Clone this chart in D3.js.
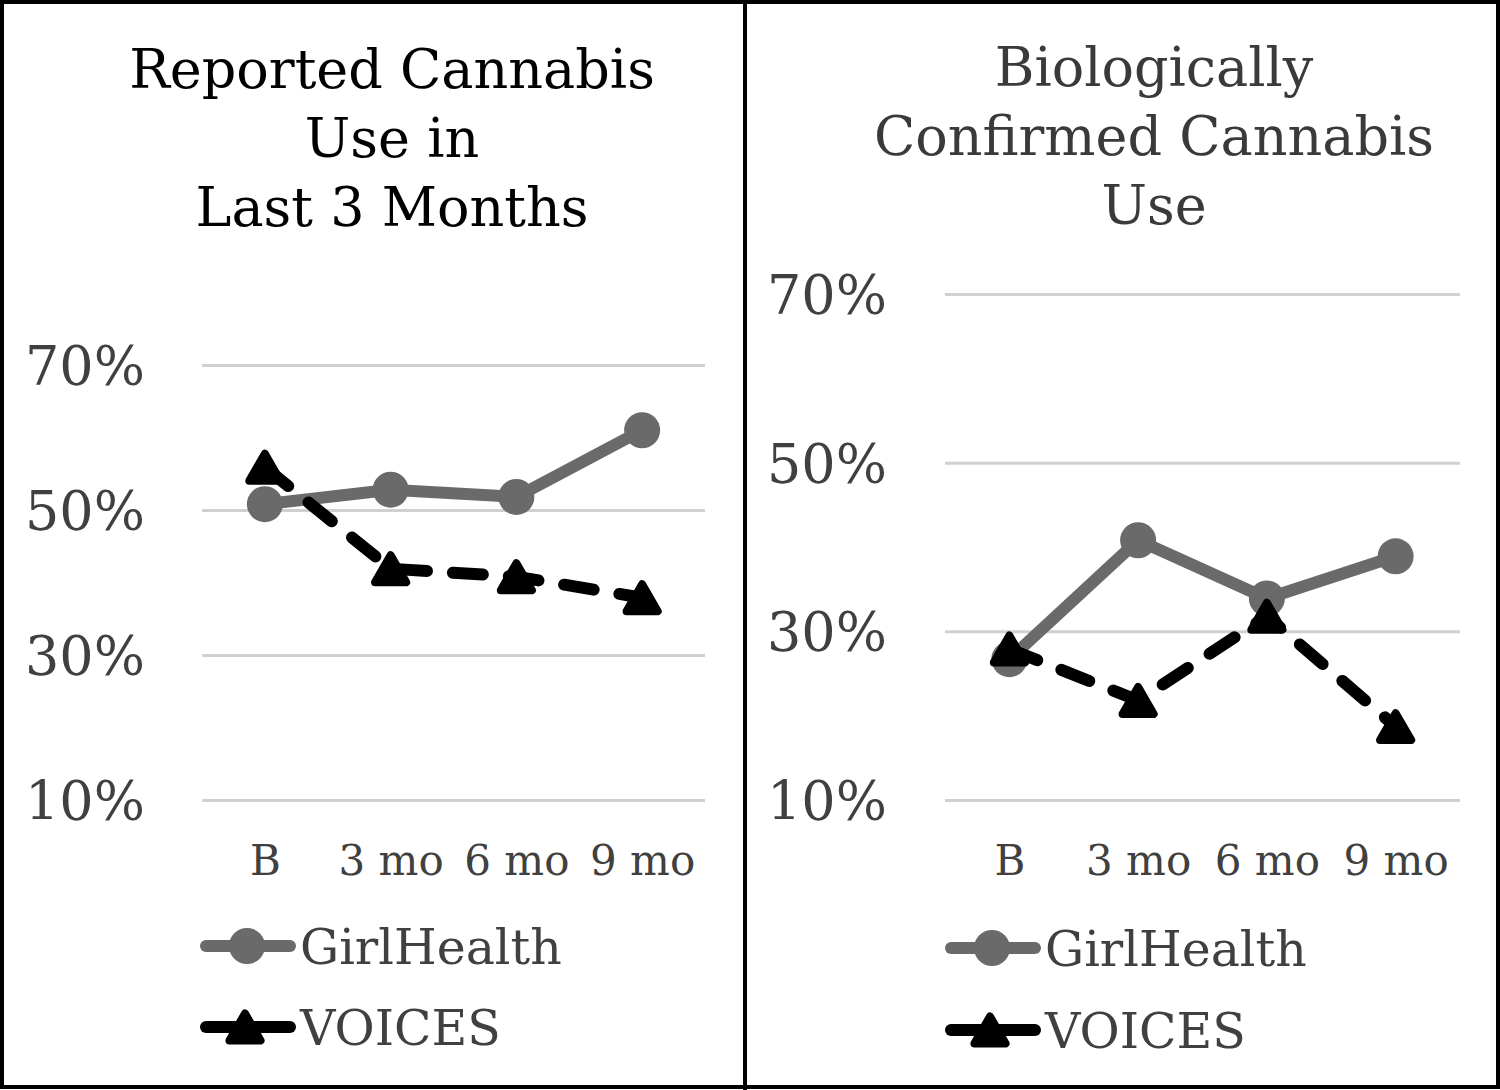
<!DOCTYPE html>
<html>
<head>
<meta charset="utf-8">
<script src="https://cdn.jsdelivr.net/npm/d3@7"></script>
<style>
  body { margin: 0; background: #fff; }
  text { font-family: "DejaVu Serif", "Liberation Serif", serif; }
</style>
</head>
<body>
<svg></svg>
<script>
const svgWidth = 1500;
const svgHeight = 1090;

// data (percent)
const categories = ["B", "3 mo", "6 mo", "9 mo"];
const yTicks = [10, 30, 50, 70];
const seriesNames = ["GirlHealth", "VOICES"];
const reportedGirlHealth = [50.8, 52.8, 51.8, 61.0];
const reportedVoices = [55.9, 41.9, 40.8, 37.9];
const confirmedGirlHealth = [26.7, 40.8, 33.9, 38.9];
const confirmedVoices = [27.9, 21.8, 31.8, 18.7];
const titleReported = ["Reported Cannabis", "Use in", "Last 3 Months"];
const titleConfirmed = ["Biologically", "Confirmed Cannabis", "Use"];

const grayColor = "#6a6a6a";
const labelColor = "#404040";

const panels = [
  { title: titleReported, titleColor: "#000", titleX: 392, titleY: 88,
    left: 202, right: 705, top: 365, bottom: 800, labelX: 145,
    series: [reportedGirlHealth, reportedVoices], legendX: 200, legendY: [946, 1027] },
  { title: titleConfirmed, titleColor: "#3a3a3a", titleX: 1154, titleY: 86,
    left: 945, right: 1460, top: 294, bottom: 800, labelX: 887,
    series: [confirmedGirlHealth, confirmedVoices], legendX: 945, legendY: [948, 1030] }
];

let svg = d3.select("svg")
  .attr("width", svgWidth)
  .attr("height", svgHeight);

const triangle = d3.symbol().type(d3.symbolTriangle).size(420);

const drawCircle = (g, cx, cy) => {
  g.append("circle")
    .attr("cx", cx).attr("cy", cy).attr("r", 18)
    .attr("fill", grayColor);
};

const drawTriangle = (g, cx, cy) => {
  g.append("path")
    .attr("d", triangle())
    .attr("transform", "translate(" + cx + "," + (cy + 4.5) + ")")
    .attr("fill", "#000")
    .attr("stroke", "#000")
    .attr("stroke-width", 8)
    .attr("stroke-linejoin", "round");
};

const drawPanel = (p) => {
  let g = svg.append("g");

  let x = d3.scalePoint().domain(categories).range([p.left, p.right]).padding(0.5);
  let y = d3.scaleLinear().domain([10, 70]).range([p.bottom, p.top]);

  // title
  g.selectAll(".title")
    .data(p.title)
    .enter().append("text")
    .attr("x", p.titleX)
    .attr("y", (d, i) => p.titleY + i * 69)
    .attr("text-anchor", "middle")
    .attr("font-size", 54)
    .attr("fill", p.titleColor)
    .text(d => d);

  // gridlines
  let yAxis = g.append("g")
    .attr("transform", "translate(" + p.left + ",0)")
    .call(d3.axisRight(y).tickValues(yTicks).tickSize(p.right - p.left).tickFormat(d => d + "%"));
  yAxis.select(".domain").remove();
  yAxis.selectAll(".tick line").attr("stroke", "#d0d0d0").attr("stroke-width", 3);
  yAxis.selectAll(".tick text")
    .attr("x", p.labelX - p.left)
    .attr("dy", "0.36em")
    .attr("text-anchor", "end")
    .attr("font-size", 54)
    .attr("font-family", '"DejaVu Serif", serif')
    .attr("fill", labelColor);

  // category labels
  let xAxis = g.append("g")
    .attr("transform", "translate(0," + p.bottom + ")")
    .call(d3.axisBottom(x).tickSize(0));
  xAxis.select(".domain").remove();
  xAxis.selectAll(".tick text")
    .attr("y", 75)
    .attr("dy", 0)
    .attr("font-size", 42)
    .attr("font-family", '"DejaVu Serif", serif')
    .attr("fill", labelColor);

  let line = d3.line()
    .x((d, i) => x(categories[i]))
    .y(d => y(d));

  // GirlHealth
  g.append("path")
    .datum(p.series[0])
    .attr("fill", "none")
    .attr("stroke", grayColor)
    .attr("stroke-width", 12)
    .attr("stroke-linejoin", "round")
    .attr("stroke-linecap", "round")
    .attr("d", line);
  p.series[0].forEach((d, i) => drawCircle(g, x(categories[i]), y(d)));

  // VOICES
  g.append("path")
    .datum(p.series[1])
    .attr("fill", "none")
    .attr("stroke", "#000")
    .attr("stroke-width", 12)
    .attr("stroke-dasharray", "30,26")
    .attr("stroke-linejoin", "round")
    .attr("stroke-linecap", "round")
    .attr("d", line);
  p.series[1].forEach((d, i) => drawTriangle(g, x(categories[i]), y(d)));

  // legend
  seriesNames.forEach((name, i) => {
    let ly = p.legendY[i];
    g.append("line")
      .attr("x1", p.legendX + 6).attr("x2", p.legendX + 90)
      .attr("y1", ly).attr("y2", ly)
      .attr("stroke", i == 0 ? grayColor : "#000")
      .attr("stroke-width", 12)
      .attr("stroke-linecap", "round");
    if (i == 0) drawCircle(g, p.legendX + 47, ly);
    else drawTriangle(g, p.legendX + 45, ly);
    g.append("text")
      .attr("x", p.legendX + 100)
      .attr("y", ly + 18)
      .attr("font-size", 49)
      .attr("fill", labelColor)
      .text(name);
  });
};

panels.forEach(drawPanel);

// frame
svg.append("rect")
  .attr("x", 2).attr("y", 2)
  .attr("width", svgWidth - 4).attr("height", svgHeight - 5)
  .attr("fill", "none")
  .attr("stroke", "#000")
  .attr("stroke-width", 4);
svg.append("line")
  .attr("x1", 745).attr("x2", 745)
  .attr("y1", 0).attr("y2", svgHeight)
  .attr("stroke", "#000")
  .attr("stroke-width", 4);
</script>
</body>
</html>
